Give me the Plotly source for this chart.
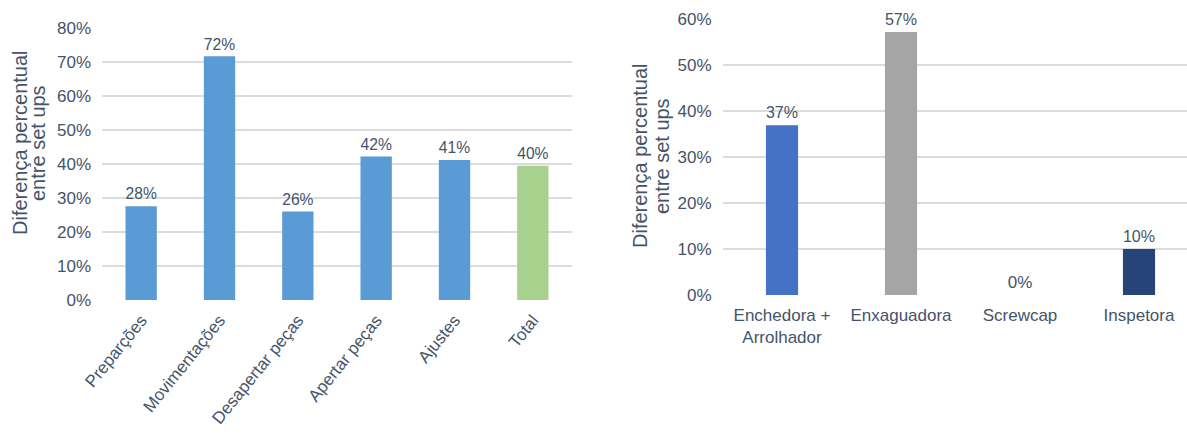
import plotly.graph_objects as go

# Left chart data
left_categories = ["Preparções", "Movimentações", "Desapertar peças", "Apertar peças", "Ajustes", "Total"]
left_values = [0.276, 0.717, 0.26, 0.422, 0.412, 0.395]
left_colors = ["#5b9bd5", "#5b9bd5", "#5b9bd5", "#5b9bd5", "#5b9bd5", "#a9d18e"]

# Right chart data
right_categories = ["Enchedora +<br>Arrolhador", "Enxaguadora", "Screwcap", "Inspetora"]
right_values = [0.369, 0.572, 0.0, 0.10]
right_colors = ["#4472c4", "#a5a5a5", "#ffc000", "#264478"]

y_title_lines = ["Diferença percentual", "entre set ups"]
left_ticks = [0, 0.1, 0.2, 0.3, 0.4, 0.5, 0.6, 0.7, 0.8]
right_ticks = [0, 0.1, 0.2, 0.3, 0.4, 0.5, 0.6]

FONT = "Liberation Sans, Arial, sans-serif"
TXT = "#44546a"
GRID = "#dcdcdc"
W, H = 1187, 436

fig = go.Figure()
fig.add_trace(go.Bar(
    x=left_categories, y=left_values, width=[0.4] * len(left_categories),
    marker=dict(color=left_colors, line=dict(width=0)),
    texttemplate="%{y:.0%}", textposition="outside", cliponaxis=False,
    textfont=dict(size=17, color=TXT, family=FONT), xaxis="x", yaxis="y", showlegend=False,
))
fig.add_trace(go.Bar(
    x=right_categories, y=right_values, width=[0.27] * len(right_categories),
    marker=dict(color=right_colors, line=dict(width=0)),
    texttemplate="%{y:.0%}", textposition="outside", cliponaxis=False,
    textfont=dict(size=17, color=TXT, family=FONT), xaxis="x2", yaxis="y2", showlegend=False,
))

lx0, lx1 = 102, 572
rx0, rx1 = 722.5, 1187
right_span = 119.0
right_end = -0.5 + (rx1 - rx0) / right_span

fig.update_layout(
    template="none",
    width=W, height=H, margin=dict(l=0, r=0, t=0, b=0, pad=0),
    paper_bgcolor="white", plot_bgcolor="white",
    font=dict(family=FONT, color=TXT, size=17),
    xaxis=dict(domain=[lx0 / W, lx1 / W], anchor="y", tickangle=-51, automargin=False,
               tickfont=dict(size=17, color=TXT), showgrid=False, zeroline=False,
               showline=False, ticks="", range=[-0.5, 5.5], ticklabelstandoff=6),
    yaxis=dict(domain=[1 - 300 / H, 1 - 28 / H], anchor="x", range=[0, 0.8], automargin=False,
               tickvals=left_ticks, tickformat=".0%", showgrid=True, gridcolor=GRID,
               gridwidth=2, zeroline=False, showline=False, ticks="",
               ticklabelstandoff=10, tickfont=dict(size=17, color=TXT)),
    xaxis2=dict(domain=[rx0 / W, 1.0], anchor="y2", tickangle=0, automargin=False,
                tickfont=dict(size=17, color=TXT), showgrid=False, zeroline=False,
                showline=False, ticks="", range=[-0.5, right_end], ticklabelstandoff=8),
    yaxis2=dict(domain=[1 - 295 / H, 1 - 19 / H], anchor="x2", range=[0, 0.6], automargin=False,
                tickvals=right_ticks, tickformat=".0%", showgrid=True, gridcolor=GRID,
                gridwidth=2, zeroline=False, showline=False, ticks="",
                ticklabelstandoff=10, tickfont=dict(size=17, color=TXT)),
)

title_spots = [((20, 38), 143), ((640, 662), 156)]
for (xs, yc) in title_spots:
    for line, xc in zip(y_title_lines, xs):
        fig.add_annotation(text=line, x=xc / W, y=1 - yc / H, xref="paper", yref="paper",
                           textangle=-90, showarrow=False, xanchor="center", yanchor="middle",
                           font=dict(size=20, color=TXT, family=FONT))

fig.write_html("out.html")
